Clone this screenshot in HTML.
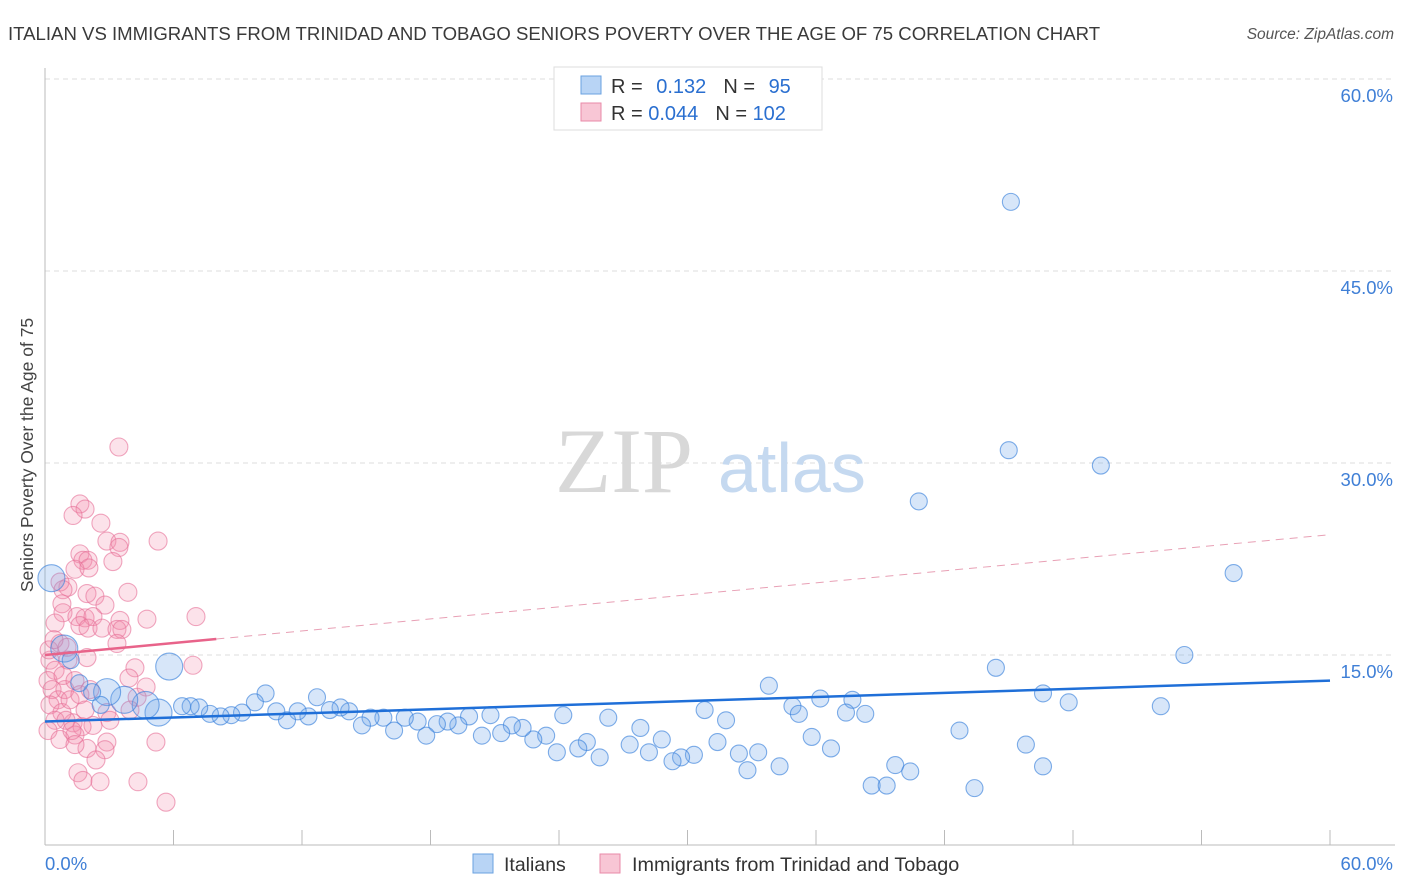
<!DOCTYPE html>
<html><head><meta charset="utf-8"><style>
body{margin:0;background:#fff;font-family:"Liberation Sans",sans-serif}
svg{display:block}
</style></head><body>
<svg id="chart" width="1406" height="892">
<text x="8" y="40" font-size="18.6" fill="#3a3a3a">ITALIAN VS IMMIGRANTS FROM TRINIDAD AND TOBAGO SENIORS POVERTY OVER THE AGE OF 75 CORRELATION CHART</text>
<text x="1394" y="39" font-size="15.5" fill="#555" font-style="italic" text-anchor="end">Source: ZipAtlas.com</text>
<g id="grid"></g>
<text x="555" y="492" font-size="92" fill="#d8d8d8" font-family="Liberation Serif,serif">ZIP</text>
<text x="718" y="492" font-size="70" fill="#c5d9f0">atlas</text>
<g id="marks"></g>
<text transform="translate(33,455) rotate(-90)" font-size="17.5" fill="#444" text-anchor="middle">Seniors Poverty Over the Age of 75</text>
<g>
<rect x="554" y="67" width="268" height="63" fill="#fff" stroke="#ddd"/>
<rect x="581" y="76" width="20" height="18" fill="#b8d4f5" stroke="#6aa2e0"/>
<rect x="581" y="103" width="20" height="18" fill="#f8c6d5" stroke="#e98aa8"/>
<text x="611" y="93" font-size="20" fill="#333">R = <tspan fill="#2a6fd0" dx="8">0.132</tspan><tspan dx="17">N = </tspan><tspan fill="#2a6fd0" dx="8">95</tspan></text>
<text x="611" y="120" font-size="20" fill="#333">R = <tspan fill="#2a6fd0">0.044</tspan><tspan dx="17">N = </tspan><tspan fill="#2a6fd0">102</tspan></text>
</g>
<g>
<rect x="473" y="854" width="20" height="19" fill="#b8d4f5" stroke="#6aa2e0"/>
<text x="504" y="871" font-size="19.5" fill="#333">Italians</text>
<rect x="600" y="854" width="20" height="19" fill="#f8c6d5" stroke="#e98aa8"/>
<text x="632" y="871" font-size="19.8" fill="#333">Immigrants from Trinidad and Tobago</text>
</g>
</svg>
<script>
const xTicks=[0,6,12,18,24,30,36,42,48,54,60];
const yTicks=[15,30,45,60];
const blueX=[45.1,45.0,49.3,40.8,55.5,53.2,44.4,46.6,47.8,52.1,42.7,45.8,46.6,43.4,38.6,39.3,39.7,40.4,36.7,35.8,36.2,37.7,37.4,38.3,34.9,35.2,33.8,31.8,30.8,31.4,32.4,33.3,32.8,34.3,30.3,29.7,29.3,28.2,27.8,28.8,27.3,26.3,25.9,25.3,24.9,23.9,24.2,23.4,22.8,22.3,21.8,21.3,20.8,20.4,19.8,19.3,18.8,18.3,17.8,17.4,16.8,16.3,15.8,15.2,14.8,14.2,13.8,13.3,12.7,12.3,11.8,11.3,10.8,10.3,9.8,9.2,8.7,8.2,7.7,7.2,6.8,6.4,5.8,5.3,4.7,3.7,2.9,2.2,1.6,0.9,0.3,1.2,2.6];
const blueY=[50.4,31.0,29.8,27.0,21.4,15.0,14.0,12.0,11.3,11.0,9.1,8.0,6.3,4.6,4.8,4.8,6.4,5.9,7.7,8.6,11.6,11.5,10.5,10.4,11.0,10.4,12.6,9.9,10.7,8.2,7.3,7.4,6.0,6.3,7.2,7.0,6.7,7.4,9.3,8.4,8.0,10.1,7.0,8.2,7.7,7.4,10.3,8.7,8.4,9.3,9.5,8.9,10.3,8.7,10.2,9.5,9.8,9.6,8.7,9.8,10.1,9.1,10.1,10.1,9.5,10.6,10.9,10.7,11.7,10.2,10.6,9.9,10.6,12.0,11.3,10.5,10.3,10.2,10.4,10.9,11.0,11.0,14.1,10.5,11.1,11.5,12.1,12.1,12.8,15.5,21.0,14.6,11.1];
const blueBig=[82,83,84,85,86,89,90];
const pinkX=[3.45,1.63,1.87,1.31,2.61,2.89,3.5,3.45,5.28,3.17,1.63,1.77,2.01,1.4,2.05,3.87,1.07,0.7,0.84,1.96,2.33,2.8,0.79,0.84,1.49,1.87,2.24,0.47,1.63,2.01,2.66,3.5,3.36,3.59,3.36,4.76,7.05,0.7,1.03,1.96,6.91,4.2,3.92,4.72,4.3,3.97,2.89,3.03,2.24,1.31,1.73,1.4,1.96,2.89,2.8,2.38,5.18,1.54,1.77,2.57,4.34,5.65,0.23,0.47,0.14,0.33,0.61,0.23,0.79,0.47,0.14,0.7,0.93,1.17,0.98,1.26,1.4,0.19,0.42,0.84,1.07,1.4,1.63,1.87,2.1];
const pinkY=[31.25,26.8,26.4,25.9,25.3,23.9,23.8,23.4,23.9,22.3,22.9,22.4,22.4,21.7,21.8,19.9,20.3,20.7,20.1,19.8,19.6,18.9,19.0,18.3,18.0,17.9,18.0,17.5,17.3,17.1,17.1,17.7,17.0,17.0,15.9,17.8,18.0,15.9,15.6,14.8,14.2,14.0,13.2,12.5,11.7,10.7,10.5,9.9,9.5,9.7,9.4,8.75,7.7,8.2,7.6,6.8,8.2,5.8,5.2,5.1,5.1,3.5,14.6,13.8,13.0,12.3,11.5,11.1,10.5,9.9,9.1,8.4,12.3,11.5,9.9,9.1,8.0,15.4,16.2,13.4,14.6,13.0,11.9,10.7,12.3];
const blueTrend=[0,9.8,60,13.0];
const pinkTrend=[0,15.0,8,16.25,60,24.4];
const NS='http://www.w3.org/2000/svg';
const X=v=>45+v/60*1285, Y=v=>847-v*12.8;
function mk(t,a,p){const e=document.createElementNS(NS,t);for(const k in a)e.setAttribute(k,a[k]);p.appendChild(e);return e;}
const grid=document.getElementById('grid'), marks=document.getElementById('marks');
yTicks.forEach(t=>{const l=mk('line',{x1:45,x2:1395,y1:Y(t),y2:Y(t),stroke:'#ddd','stroke-dasharray':'5,4'},grid);


const tx=mk('text',{x:1393,y:Y(t)+23,'font-size':18.5,fill:'#3f7fd6','text-anchor':'end'},grid);tx.textContent=t.toFixed(1)+'%';

});
mk('line',{x1:45,x2:45,y1:68,y2:845,stroke:'#bbb'},grid);
mk('line',{x1:45,x2:1395,y1:845,y2:845,stroke:'#bbb'},grid);
xTicks.forEach(t=>{const l=mk('line',{x1:X(t),x2:X(t),y1:830,y2:845,stroke:'#bbb'},grid);

});
const x0=mk('text',{x:45,y:870,'font-size':18.5,fill:'#3f7fd6'},grid);x0.textContent='0.0%';


const x1=mk('text',{x:1393,y:870,'font-size':18.5,fill:'#3f7fd6','text-anchor':'end'},grid);x1.textContent='60.0%';


pinkX.forEach((v,i)=>{const c=mk('circle',{cx:X(v),cy:Y(pinkY[i]),r:9,fill:'rgba(242,140,170,0.25)',stroke:'rgba(230,110,150,0.6)','stroke-width':1.1},marks);

});
blueX.forEach((v,i)=>{const c=mk('circle',{cx:X(v),cy:Y(blueY[i]),r:blueBig.includes(i)?13.5:8.5,fill:'rgba(110,165,235,0.28)',stroke:'rgba(60,130,220,0.65)','stroke-width':1.1},marks);

});
const bt=mk('line',{x1:X(blueTrend[0]),y1:Y(blueTrend[1]),x2:X(blueTrend[2]),y2:Y(blueTrend[3]),stroke:'#1f6fd8','stroke-width':2.5},marks);


const pt=mk('line',{x1:X(pinkTrend[0]),y1:Y(pinkTrend[1]),x2:X(pinkTrend[2]),y2:Y(pinkTrend[3]),stroke:'#e8638a','stroke-width':2.5},marks);


const pd=mk('line',{x1:X(pinkTrend[2]),y1:Y(pinkTrend[3]),x2:X(pinkTrend[4]),y2:Y(pinkTrend[5]),stroke:'#e8a0b5','stroke-width':1,'stroke-dasharray':'8,6'},marks);


</script>
</body></html>
